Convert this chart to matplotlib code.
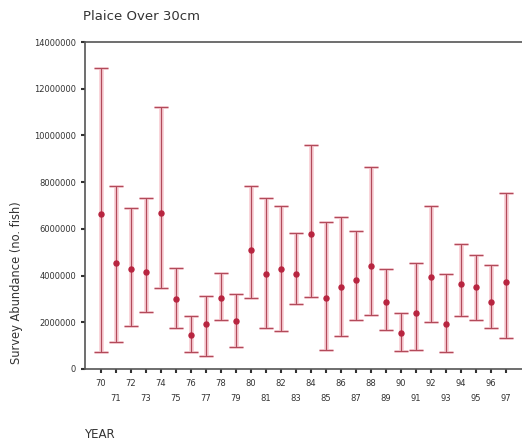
import numpy as np
import matplotlib
matplotlib.use("Agg")
import matplotlib.pyplot as plt

# survey abundance estimates, millions of fish
years = list(range(70, 98))
mean = [6.64, 4.55, 4.30, 4.17, 6.68, 2.98, 1.45, 1.91, 3.02, 2.04,
        5.10, 4.08, 4.30, 4.08, 5.79, 3.06, 3.53, 3.79, 4.43, 2.85,
        1.53, 2.38, 3.96, 1.91, 3.66, 3.49, 2.85, 3.74]
upper = [12.9, 7.83, 6.90, 7.32, 11.2, 4.34, 2.26, 3.11, 4.13, 3.23,
         7.83, 7.32, 6.98, 5.83, 9.60, 6.30, 6.51, 5.92, 8.64, 4.30,
         2.38, 4.55, 6.98, 4.08, 5.36, 4.89, 4.47, 7.53]
lower = [0.72, 1.15, 1.83, 2.43, 3.45, 1.74, 0.72, 0.55, 2.09, 0.94,
         3.02, 1.74, 1.62, 2.77, 3.10, 0.81, 1.40, 2.09, 2.30, 1.66,
         0.77, 0.81, 2.00, 0.72, 2.26, 2.09, 1.74, 1.32]

x = np.array(years)
m = np.array(mean) * 1e6
err = [m - np.array(lower) * 1e6, np.array(upper) * 1e6 - m]

fig = plt.figure(figsize=(5.22, 4.41), dpi=100)
ax = fig.add_axes([85 / 522, 1 - 369 / 441, 1 - 85 / 522, (369 - 42) / 441])

# soft pink halo then the thin bar on top
ax.errorbar(x, m, yerr=err, fmt="none", ecolor="#f9d2d8", elinewidth=3.5,
            capsize=5, capthick=2.0, zorder=2)
ax.errorbar(x, m, yerr=err, fmt="o", color="#b82540", ms=3.6, ecolor="#b24a5a",
            elinewidth=0.9, capsize=5, capthick=0.9, zorder=3)

ax.set_xlim(68.93, 98.07)
ax.set_ylim(0, 14000000)
ax.set_yticks(np.arange(0, 14000001, 2000000))
ax.set_yticklabels([str(v) for v in range(0, 14000001, 2000000)])
ax.set_xticks(x)
ax.set_xticklabels([str(y) for y in years])
for i, t in enumerate(ax.xaxis.get_major_ticks()):
    t.set_pad(4 if i % 2 == 0 else 15)

ax.tick_params(axis="both", labelsize=6, colors="#333333", length=3, width=1.5)
for s in ["right"]:
    ax.spines[s].set_visible(False)
for s in ["left", "bottom", "top"]:
    ax.spines[s].set_color("#555555")
    ax.spines[s].set_linewidth(1.2)

fig.text(83 / 522, 1 - 17 / 441, "Plaice Over 30cm", fontsize=9.5,
         ha="left", va="center", color="#333333")
fig.text(84 / 522, 1 - 434 / 441, "YEAR", fontsize=8.5, ha="left",
         va="center", color="#333333")
fig.text(17 / 522, 1 - 283 / 441, "Survey Abundance (no. fish)", fontsize=8.3,
         rotation=90, ha="center", va="center", color="#333333")

fig.savefig("out.png", dpi=100)
